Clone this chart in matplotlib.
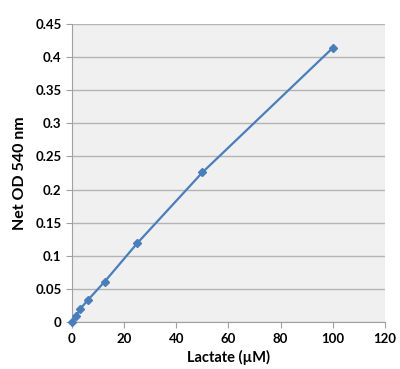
import matplotlib
matplotlib.use('Agg')
import matplotlib.pyplot as plt

# lactate standard curve
lactate = [0, 1.5625, 3.125, 6.25, 12.5, 25, 50, 100]
od540 = [0.0, 0.009, 0.02, 0.034, 0.061, 0.119, 0.226, 0.414]

xticks = [0, 20, 40, 60, 80, 100, 120]
yticks = [0, 0.05, 0.1, 0.15, 0.2, 0.25, 0.3, 0.35, 0.4, 0.45]
ytick_labels = ['0', '0.05', '0.1', '0.15', '0.2', '0.25', '0.3', '0.35', '0.4', '0.45']

plt.rcParams['font.family'] = ['Lato', 'DejaVu Sans']

fig = plt.figure(figsize=(4.0, 3.69), dpi=100, facecolor='w')
ax = fig.add_axes([0.18, 0.127, 0.7825, 0.808])
ax.set_facecolor('#f0f0f0')

ax.plot(lactate, od540, color='#4a7ebb', lw=1.6, marker='D', ms=4.5,
        mfc='#4a7ebb', mec='#4a7ebb', zorder=3, clip_on=False)

ax.set_xlim(0, 120)
ax.set_ylim(0, 0.45)
ax.set_xticks(xticks)
ax.set_yticks(yticks)
ax.set_yticklabels(ytick_labels)
ax.yaxis.grid(True, color='#b4b4b4', lw=1)
ax.set_axisbelow(True)

for s in ['top', 'right']:
    ax.spines[s].set_visible(False)
ax.spines['left'].set_color('#a0a0a0')
ax.spines['bottom'].set_color('#a0a0a0')
ax.tick_params(axis='both', colors='#a0a0a0', labelcolor='black', labelsize=9.5,
               length=4, direction='out')
for lbl in ax.get_xticklabels() + ax.get_yticklabels():
    lbl.set_fontweight('bold')

ax.set_xlabel('Lactate (µM)', fontsize=10.5, fontweight='bold', labelpad=4)
ax.set_ylabel('Net OD 540 nm', fontsize=11.5, fontweight='bold', labelpad=6)

fig.savefig('out.png', dpi=100)
